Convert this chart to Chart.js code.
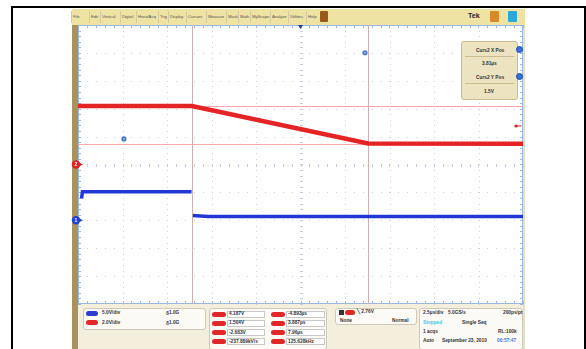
<!DOCTYPE html>
<html><head><meta charset="utf-8">
<script src="https://cdn.jsdelivr.net/npm/chart.js@4.4.1/dist/chart.umd.min.js"></script>
<style>
html,body{margin:0;padding:0;width:586px;height:349px;overflow:hidden;background:#fff;font-family:"Liberation Sans",Arial,sans-serif;}
.abs{position:absolute;}
#frame{left:11px;top:6px;width:571px;height:400px;border:2px solid #000;border-bottom:none;}
#menubar{left:72px;top:9px;width:453px;height:16px;background:#efe3a4;}
.mi{position:absolute;top:5px;font-size:4.3px;color:#555;white-space:nowrap;letter-spacing:-0.1px;}
.sep{position:absolute;top:2px;width:1px;height:12px;background:#d6cb9c;}
#tan{left:72px;top:25px;width:6px;height:324px;background:#a8935c;}
#redge{left:523px;top:25px;width:2px;height:324px;background:#e4dfc6;}
#bottom{left:78px;top:304px;width:445px;height:45px;background:#f4efdc;}
.box{position:absolute;background:#fbfaf5;border:1px solid #cfcab8;border-radius:3px;box-sizing:border-box;}
.t{position:absolute;font-size:4.8px;font-weight:bold;color:#333;white-space:nowrap;line-height:6px;}
.pill{position:absolute;width:13px;height:5px;border-radius:3px;}
.vbox{position:absolute;height:7px;background:#fff;border:1px solid #c8c8c8;box-sizing:border-box;}
#curbox{left:461px;top:41px;width:57px;height:59px;background:#ece3c0;border:1px solid #c9bd8f;border-radius:3px;box-sizing:border-box;z-index:5;}
.cline{position:absolute;left:3px;width:49px;height:1px;background:#c9bd8f;}
.bc{position:absolute;width:7px;height:7px;border-radius:50%;background:#3a6fd8;border:1px solid #1d4bb0;box-sizing:border-box;z-index:6;}
canvas{position:absolute;left:0;top:0;z-index:2;}
.ov{z-index:1;}
</style></head>
<body>
<div id="frame" class="abs"></div>
<div id="menubar" class="abs ov"></div>
<div id="tan" class="abs ov"></div>
<div id="redge" class="abs ov"></div>
<div id="bottom" class="abs ov"></div>
<canvas id="c" width="586" height="349"></canvas>
<div id="curbox" class="abs">
  <div class="t" style="left:14px;top:6px;">Curs2 X Pos</div>
  <div class="cline" style="top:14px;"></div>
  <div class="t" style="left:20px;top:19px;">3.81µs</div>
  <div class="t" style="left:14px;top:33px;">Curs2 Y Pos</div>
  <div class="cline" style="top:41px;"></div>
  <div class="t" style="left:22px;top:47px;">1.5V</div>
</div>
<div class="bc" style="left:516px;top:46px;"></div>
<div class="bc" style="left:516px;top:73px;"></div>
<script>
// ---------- data ----------
const menuItems = ["File","Edit","Vertical","Digital","Horiz/Acq","Trig","Display","Cursors","Measure","Mask","Math","MyScope","Analyze","Utilities","Help"];
const menuX =     [73, 91, 102, 122, 138, 160, 170, 188, 208, 228, 240, 252, 272, 290, 308];

const timeTicks = [-12.5,-10,-7.5,-5,-2.5,0,2.5,5,7.5,10,12.5];   // µs, 2.5 µs/div
const voltTicks = [-10,-8,-6,-4,-2,0,2,4,6,8,10];                  // red channel, 2 V/div

const redTime  = [-12.5, -6.1, 3.8, 12.5];
const redVolts = [4.19, 4.19, 1.50, 1.48];

const blueTime  = [-12.3, -12.25, -6.12, -6.1, -6.05, -5.2, 12.5];
const blueVolts = [3.9, 5.1, 5.1, null, 0.85, 0.68, 0.68];

const cursorTimes = [-6.1, 3.81];
const cursorVolts = [4.187, 1.504];
const triggerLevel = 2.76;
const handleTimes = [-9.92, 3.62];
const handleVolts = [1.83, 8.01];

// ---------- menu ----------
const mb = document.getElementById('menubar');
menuItems.forEach((m,i)=>{
  const d=document.createElement('div');d.className='mi';d.textContent=m;d.style.left=(menuX[i]-72)+'px';mb.appendChild(d);
  const s=document.createElement('div');s.className='sep';s.style.left=(menuX[i]-72-2)+'px';mb.appendChild(s);
});
mb.insertAdjacentHTML('beforeend',
 '<div style="position:absolute;left:248px;top:2px;width:8px;height:11px;background:#9a5a1c;border-radius:1px"></div>'+
 '<div style="position:absolute;left:396px;top:3px;font-size:7px;font-weight:bold;color:#222">Tek</div>'+
 '<div style="position:absolute;left:418px;top:2px;width:9px;height:11px;background:#d88a2a;border-radius:1px"></div>'+
 '<div style="position:absolute;left:436px;top:2px;width:9px;height:11px;background:#2aa8d8;border-radius:1px"></div>');

// ---------- bottom panel ----------
const bp=document.getElementById('bottom');
function add(html){bp.insertAdjacentHTML('beforeend',html);}
const L=78,T=304;
function box(x,y,w,h){add(`<div class="box" style="left:${x-L}px;top:${y-T}px;width:${w}px;height:${h}px"></div>`);}
function txt(x,y,s,extra){add(`<div class="t" style="left:${x-L}px;top:${y-T-3}px;${extra||''}">${s}</div>`);}
function pill(x,y,c,w){add(`<div class="pill" style="left:${x-L}px;top:${y-T-2.5}px;background:${c};width:${w||13}px"></div>`);}
function vbox(x,y,w){add(`<div class="vbox" style="left:${x-L}px;top:${y-T-3.5}px;width:${w}px"></div>`);}
box(83,308,123,22);
pill(86,313,'#2a3fd0',12); txt(102,313,'5.0V/div'); txt(166,313,'ᵹ1.0G');
pill(86,322.7,'#e02828',12); txt(102,322.7,'2.0V/div'); txt(166,322.7,'ᵹ1.0G');
box(209,308,118,42);
const measA=['4.187V','1.504V','-2.683V','-237.889kV/s'];
const measB=['-4.893µs','3.887µs','7.96µs','125.628kHz'];
const rows=[314,323.3,332.6,341.7];
rows.forEach((y,i)=>{pill(212,y,'#e02828',14);vbox(227,y,38);txt(229,y,measA[i]);
  pill(271,y,'#e02828',14);vbox(286,y,39);txt(288,y,measB[i]);});
box(335,308,82,17);
add(`<div style="position:absolute;left:${339-L}px;top:${309.5-T}px;width:5px;height:5px;background:#333"></div>`);
pill(345,312.3,'#e02828',10); txt(357,312.3,'╲ 2.76V'); txt(340,320.7,'None'); txt(392,320.7,'Normal');
box(419,308,104,42);
txt(423,313.3,'2.5µs/div'); txt(448,313.3,'5.0GS/s'); txt(503,313.3,'200ps/pt');
txt(423,322.7,'Stopped','color:#3cc6e6'); txt(462,322.7,'Single Seq');
txt(423,331.7,'1 acqs'); txt(498,331.7,'RL:100k');
txt(423,341,'Auto'); txt(442,341,'September 23, 2010'); txt(497,341,'00:57:47','color:#3a7ae0');

// ---------- chart ----------
const pts=(xs,ys)=>xs.map((x,i)=>({x:x,y:ys[i]}));
const scope={
  id:'scope',
  beforeDatasetsDraw(chart){
    const {ctx,chartArea:ca,scales}=chart;const xs=scales.x, ys=scales.yR;
    ctx.save();
    ctx.fillStyle='#fff';ctx.fillRect(ca.left,ca.top,ca.right-ca.left,ca.bottom-ca.top);
    const xp=timeTicks.map(t=>xs.getPixelForValue(t));
    const yp=voltTicks.map(v=>ys.getPixelForValue(v));
    const dx=(xp[1]-xp[0])/5, dy=(yp[0]-yp[1])/5;
    // dotted graticule
    ctx.fillStyle='#d2d2d2';
    xp.forEach((x,i)=>{ if(i===0||i===10||i===5) return;
      for(let y=ca.top;y<=ca.bottom;y+=dy) ctx.fillRect(Math.round(x),Math.round(y),1,1);});
    yp.forEach((y,i)=>{ if(i===0||i===10||i===5) return;
      for(let x=ca.left;x<=ca.right;x+=dx) ctx.fillRect(Math.round(x),Math.round(y),1,1);});
    // center cross with minor ticks
    const cx=xp[5], cy=yp[5];
    ctx.fillStyle='#c2cbe2';
    for(let y=ca.top;y<=ca.bottom+0.1;y+=dy) ctx.fillRect(Math.round(cx)-1,Math.round(y),3,1);
    for(let x=ca.left;x<=ca.right+0.1;x+=dx) ctx.fillRect(Math.round(x),Math.round(cy)-1,1,3);
    // edges
    ctx.fillStyle='#9ab8e6';
    ctx.fillRect(ca.left,ca.top,1,ca.bottom-ca.top);ctx.fillRect(ca.right-1,ca.top,1,ca.bottom-ca.top);
    ctx.fillRect(ca.left,ca.top,ca.right-ca.left,1);ctx.fillRect(ca.left,ca.bottom-1,ca.right-ca.left,1);
    for(let y=ca.top;y<=ca.bottom+0.1;y+=dy){ctx.fillRect(ca.left,Math.round(y),3,1);ctx.fillRect(ca.right-3,Math.round(y),3,1);}
    for(let x=ca.left;x<=ca.right+0.1;x+=dx){ctx.fillRect(Math.round(x),ca.top,1,3);ctx.fillRect(Math.round(x),ca.bottom-3,1,3);}
    // cursors
    ctx.fillStyle='#cdb0b0';
    cursorTimes.forEach(t=>ctx.fillRect(Math.round(xs.getPixelForValue(t)),ca.top,1,ca.bottom-ca.top));
    ctx.fillStyle='#f2aaaa';
    cursorVolts.forEach(v=>ctx.fillRect(ca.left,Math.round(ys.getPixelForValue(v)),ca.right-ca.left,1));
    ctx.restore();
  },
  afterDatasetsDraw(chart){
    const {ctx,chartArea:ca,scales}=chart;const xs=scales.x, ys=scales.yR, yb=scales.yB;
    ctx.save();
    function marker(y,col,label){
      ctx.fillStyle=col;ctx.beginPath();ctx.arc(ca.left-2,y,4.2,0,Math.PI*2);ctx.fill();
      ctx.beginPath();ctx.moveTo(ca.left+1,y-2);ctx.lineTo(ca.left+5,y);ctx.lineTo(ca.left+1,y+2);ctx.fill();
      ctx.fillStyle='#fff';ctx.font='bold 5px "Liberation Sans"';ctx.textAlign='center';ctx.textBaseline='middle';ctx.fillText(label,ca.left-2,y+0.5);
    }
    marker(ys.getPixelForValue(0),'#e02020','2');
    marker(yb.getPixelForValue(0),'#2040d8','1');
    // trigger level marker
    const ty=ys.getPixelForValue(triggerLevel);
    ctx.fillStyle='#e02020';ctx.beginPath();ctx.arc(ca.right-7,ty,1.6,0,Math.PI*2);ctx.fill();ctx.fillRect(ca.right-6,ty-0.5,4,1);
    // trigger position marker
    const tx=xs.getPixelForValue(0);
    ctx.fillStyle='#2a3f9a';ctx.beginPath();ctx.moveTo(tx-2.5,ca.top);ctx.lineTo(tx+2.5,ca.top);ctx.lineTo(tx,ca.top+4);ctx.fill();
    // cursor handles
    handleTimes.forEach((t,i)=>{const x=xs.getPixelForValue(t),y=ys.getPixelForValue(handleVolts[i]);
      ctx.fillStyle='#4a78c8';ctx.beginPath();ctx.arc(x,y,2.6,0,Math.PI*2);ctx.fill();
      ctx.fillStyle='#9ab8e8';ctx.beginPath();ctx.arc(x,y,1,0,Math.PI*2);ctx.fill();});
    ctx.restore();
  }
};
new Chart(document.getElementById('c'),{
  type:'line',
  data:{datasets:[
    {data:pts(redTime,redVolts),yAxisID:'yR',borderColor:'#e42424',borderWidth:4.5,pointRadius:0,tension:0,spanGaps:false},
    {data:pts(blueTime,blueVolts),yAxisID:'yB',borderColor:'#2238d4',borderWidth:3.5,pointRadius:0,tension:0,spanGaps:false}
  ]},
  options:{
    responsive:false,animation:false,events:[],
    layout:{padding:{left:78,top:25,right:63,bottom:45}},
    plugins:{legend:{display:false},tooltip:{enabled:false}},
    scales:{
      x:{type:'linear',min:timeTicks[0],max:timeTicks[10],display:false},
      yR:{type:'linear',min:voltTicks[0],max:voltTicks[10],display:false},
      yB:{type:'linear',min:-15,max:35,display:false}
    }
  },
  plugins:[scope]
});
</script>
</body></html>
